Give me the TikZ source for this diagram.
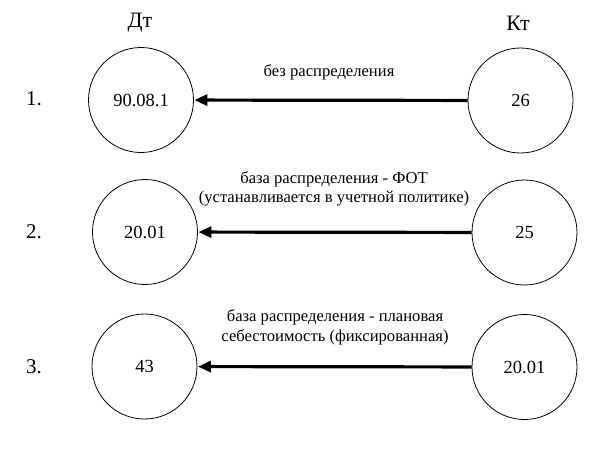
\documentclass[tikz,border=0pt]{standalone}
\usepackage{fontspec}
\setmainfont{Liberation Serif}
\usetikzlibrary{arrows.meta}
\tikzset{
  acct/.style={circle,draw,line width=0.8pt,minimum size=105pt,inner sep=0pt,font=\fontsize{18.5}{20}\selectfont},
  flow/.style={line width=3.2pt,-{Triangle[length=13pt,width=11pt]},shorten >=0.5pt},
  hdr/.style={font=\fontsize{22}{24}\selectfont},
  num/.style={font=\fontsize{21}{23}\selectfont},
  lbl/.style={font=\fontsize{16.6}{19.5}\selectfont,align=center}
}
\begin{document}
\begin{tikzpicture}[x=1pt,y=-1pt]
\useasboundingbox (0,0) rectangle (594,464);
\node[hdr] (dt) at (140,23) {Дт};
\node[hdr] (kt) at (518,23) {Кт};
\node[num] (n1) at (34,99) {1.};
\node[num] (n2) at (34,232) {2.};
\node[num] (n3) at (34,367) {3.};
\node[acct] (l1) at (141,100) {90.08.1};
\node[acct] (r1) at (520.5,100.5) {26};
\node[acct] (l2) at (145,232) {20.01};
\node[acct] (r2) at (524.5,232.5) {25};
\node[acct] (l3) at (144.5,366.5) {43};
\node[acct] (r3) at (524.5,367) {20.01};
\draw[flow] (r1) -- (l1);
\draw[flow] (r2) -- (l2);
\draw[flow] (r3) -- (l3);
\node[lbl] (t1) at (329,72) {без распределения};
\node[lbl] (t2) at (334,189) {база распределения - ФОТ\\(устанавливается в учетной политике)};
\node[lbl] (t3) at (335,327.5) {база распределения - плановая\\себестоимость (фиксированная)};
\end{tikzpicture}
\end{document}
